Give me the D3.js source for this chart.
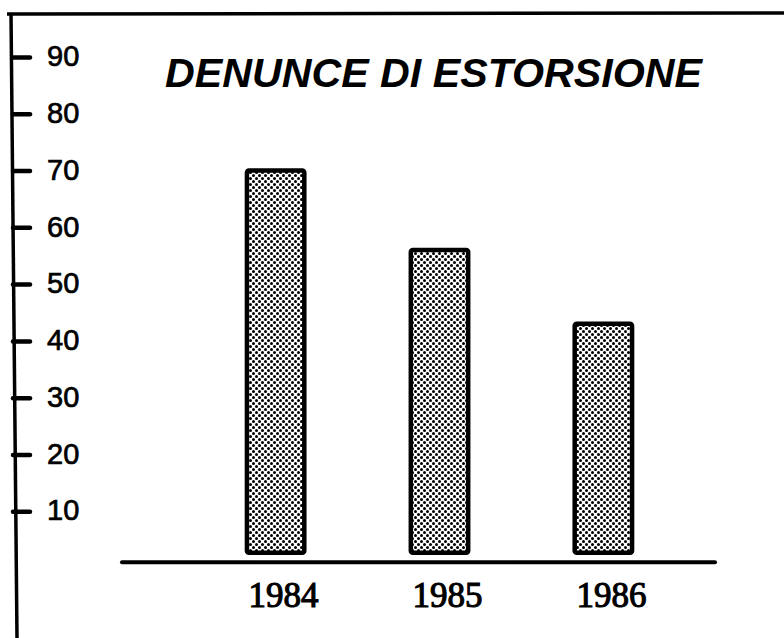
<!DOCTYPE html>
<html>
<head>
<meta charset="utf-8">
<script src="https://cdn.jsdelivr.net/npm/d3@7"></script>
<style>
  body { margin: 0; background: #fff; }
  svg { display: block; }
</style>
</head>
<body>
<svg width="784" height="638"></svg>
<script>
// data
var years = ["1984", "1985", "1986"];
var denunce = [70, 56, 43];
var yTicks = [10, 20, 30, 40, 50, 60, 70, 80, 90];
var title = "DENUNCE DI ESTORSIONE";

var svg = d3.select("svg"),
    width = +svg.attr("width"),
    height = +svg.attr("height");

//scales
var y = d3.scaleLinear().domain([0, 90]).range([568, 57]);
var x = d3.scaleBand().domain(years).range([165, 714]).paddingInner(0.65).paddingOuter(0.5);

//halftone fill for the bars
var defs = svg.append("defs");
var pat = defs.append("pattern")
    .attr("id", "dots")
    .attr("patternUnits", "userSpaceOnUse")
    .attr("width", 6)
    .attr("height", 6);
pat.append("rect").attr("width", 6).attr("height", 6).attr("fill", "#fff");
pat.append("circle").attr("cx", 1.5).attr("cy", 1.5).attr("r", 1.5).attr("fill", "#000");
pat.append("circle").attr("cx", 4.5).attr("cy", 4.5).attr("r", 1.5).attr("fill", "#000");

//frame lines (top and left)
svg.append("line")
    .attr("x1", 7).attr("y1", 14).attr("x2", width).attr("y2", 13)
    .attr("stroke", "#000").attr("stroke-width", 3.5);
svg.append("line")
    .attr("x1", 11).attr("y1", 13).attr("x2", 17).attr("y2", height)
    .attr("stroke", "#000").attr("stroke-width", 3.5);

//y axis ticks with labels to the right of the tick marks
var yAxis = svg.append("g")
    .attr("transform", "translate(13,0)")
    .call(d3.axisRight(y).tickValues(yTicks).tickSize(17).tickPadding(17));
yAxis.select(".domain").remove();
yAxis.selectAll(".tick line")
    .attr("stroke", "#000").attr("stroke-width", 4.5).attr("stroke-linecap", "round");
yAxis.selectAll(".tick text")
    .attr("fill", "#000")
    .attr("stroke", "#000")
    .attr("stroke-width", 0.7)
    .attr("dy", "0.3em")
    .style("font-family", "'Liberation Sans', Arial, sans-serif")
    .style("font-size", "29px");

//title
svg.append("text")
    .attr("x", 165)
    .attr("y", 87)
    .attr("textLength", 537)
    .attr("lengthAdjust", "spacingAndGlyphs")
    .style("font-family", "'Liberation Sans', Arial, sans-serif")
    .style("font-size", "40px")
    .style("font-style", "italic")
    .style("font-weight", "bold")
    .text(title);

//bars
svg.selectAll("rect.bar")
  .data(denunce)
  .enter().append("rect")
    .attr("class", "bar")
    .attr("x", function(d, i) { return x(years[i]); })
    .attr("y", function(d) { return y(d); })
    .attr("width", x.bandwidth())
    .attr("height", function(d) { return y(2.7) - y(d); })
    .attr("rx", 2)
    .attr("fill", "url(#dots)")
    .attr("stroke", "#000")
    .attr("stroke-width", 4.5);

//x axis line
svg.append("line")
    .attr("x1", 122).attr("y1", y(1)).attr("x2", 715).attr("y2", y(1))
    .attr("stroke", "#000").attr("stroke-width", 4).attr("stroke-linecap", "round");

//year labels
svg.selectAll("text.year")
  .data(years)
  .enter().append("text")
    .attr("class", "year")
    .attr("x", function(d) { return x(d) + x.bandwidth() / 2 + 8; })
    .attr("y", 607)
    .attr("text-anchor", "middle")
    .attr("stroke", "#000")
    .attr("stroke-width", 1.1)
    .style("font-family", "'Liberation Serif', serif")
    .style("font-size", "35px")
    .text(function(d) { return d; });
</script>
</body>
</html>
